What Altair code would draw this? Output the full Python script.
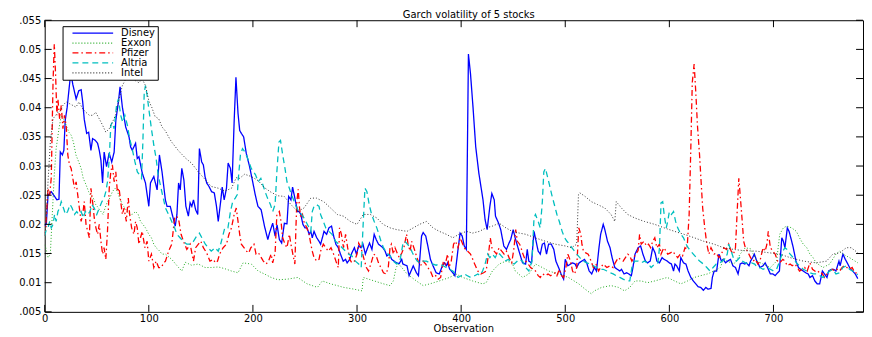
import altair as alt
import pandas as pd

# ---------------- data (observation, volatility) ----------------
disney = [(0,.0197),(1.6,.0202),(3.2,.025),(6.3,.0256),(9.5,.0248),(11.7,.0242),(13.7,.0243),(15,.0324),(17,.0319),(18.4,.0327),(19.7,.0378),(21.6,.0401),(25,.046),(27,.044),(30.2,.0415),(32.7,.0429),(35,.0431),(36.5,.041),(38,.038),(40.3,.0356),(42.2,.0358),(44.4,.0327),(46,.0347),(48.6,.0344),(50.8,.0339),(52.4,.0327),(54,.031),(55.6,.0271),(57.1,.0324),(59.4,.0299),(61.9,.0322),(64.4,.0307),(66.7,.0324),(68.3,.0378),(70.8,.041),(72.4,.0436),(74.6,.0401),(77.8,.0367),(81,.035),(82.5,.0333),(84.1,.0327),(87.3,.0339),(88.9,.0313),(90.5,.0316),(93.7,.0288),(96.8,.0271),(100,.0231),(101.6,.0271),(104.8,.0282),(108,.0259),(110.2,.0319),(112.7,.029),(115.9,.0242),(117.5,.0231),(120.6,.0231),(122.2,.0219),(123.8,.0208),(125.4,.0197),(127,.0217),(128.6,.0271),(130.2,.0259),(131.7,.0296),(133.7,.0276),(135.6,.0231),(138,.0214),(139.7,.0237),(141.3,.0231),(142.9,.0242),(145,.0225),(147,.0217),(148.6,.033),(150.8,.0307),(152.4,.0302),(154,.0282),(155.6,.0271),(157.8,.0265),(160.3,.0256),(162.9,.0254),(165,.0231),(166.7,.0205),(169.2,.0242),(170.5,.0264),(172.4,.0242),(174.6,.0262),(176.2,.0305),(178.4,.0296),(180,.0271),(182,.0378),(183.7,.0452),(185.7,.039),(187.3,.0361),(188.9,.0356),(191.1,.035),(193.6,.0322),(196.8,.0299),(200,.0271),(202.2,.0251),(204.8,.0231),(207.9,.0225),(211.1,.0197),(214.3,.0174),(215.9,.0185),(219,.0202),(221.3,.018),(223.2,.0199),(225.4,.0174),(227.6,.0168),(230.2,.0202),(232.7,.0201),(234.3,.0248),(236.5,.0242),(238.1,.0264),(240.6,.0242),(242.9,.0222),(244.4,.0222),(246,.0217),(248,.02),(250,.0194),(252,.0194),(254,.0183),(255.6,.0188),(257,.0177),(258.7,.0188),(261.3,.0177),(263.5,.0171),(265,.0166),(266.7,.0177),(268.3,.0188),(270.8,.0183),(273,.0194),(275.5,.0197),(277.5,.018),(279.7,.0166),(282,.016),(284.1,.0149),(286.7,.0137),(289,.014),(290.5,.0134),(293,.014),(295,.0151),(297.5,.016),(299.4,.0149),(301.6,.0163),(303.8,.016),(305.7,.0166),(308,.0149),(310.2,.016),(312,.0168),(314.3,.0157),(316.5,.0183),(318.4,.0174),(320.6,.0166),(322.9,.0163),(324.8,.016),(327,.0154),(328.6,.0146),(331,.0149),(333.3,.014),(335.6,.0137),(338,.0134),(340.6,.0133),(342.9,.014),(344,.0132),(348,.0129),(350,.0112),(354,.0129),(357,.0117),(359,.0112),(362,.018),(363.5,.0186),(366,.018),(368,.0163),(370.5,.014),(373,.0129),(376,.0117),(379,.0115),(382,.0129),(384,.0134),(385.7,.0129),(387,.0134),(389,.0123),(392,.0117),(394,.0112),(397,.0157),(399,.0185),(401,.018),(403,.0163),(405,.0157),(407,.0492),(409,.0458),(411.4,.0401),(414,.0333),(417,.0288),(421,.0242),(423,.0208),(425,.0191),(427.6,.0231),(429.5,.0253),(431.8,.0242),(433,.0214),(436,.0202),(438,.0191),(441,.0163),(443.5,.0157),(446,.0168),(447.6,.0174),(450,.0191),(452,.0176),(455.6,.0154),(459,.0134),(461.9,.0132),(463.5,.0157),(465,.0137),(467.6,.0134),(470,.0188),(472,.0171),(474,.0154),(476,.0149),(478,.0166),(480,.0168),(482,.0149),(484,.0166),(486.6,.0166),(489,.0157),(491,.0137),(493.6,.0126),(496,.0115),(498.4,.0106),(500,.014),(502.5,.0129),(505,.0132),(507,.0134),(509.5,.0132),(511,.0126),(513.3,.0134),(515.9,.0137),(518.4,.014),(520.6,.0134),(523,.012),(525.4,.0115),(528,.0126),(530,.012),(532.4,.016),(534,.0183),(536.5,.02),(538,.0191),(540.6,.0171),(543,.016),(545,.0143),(547.6,.0126),(550,.0123),(552.4,.012),(554,.0123),(556.5,.0115),(559,.0117),(561,.0115),(563.5,.0112),(565,.0126),(567,.0149),(570,.016),(572.4,.0163),(574.6,.0149),(577,.0137),(579,.0134),(581.6,.0137),(584,.016),(586.3,.0151),(588,.0137),(590.5,.0134),(593,.0143),(595,.014),(598,.0137),(600,.0134),(602,.0132),(604,.012),(605.4,.0132),(607,.0129),(609.5,.012),(611,.0143),(613.6,.0134),(615.9,.0132),(618,.012),(620.6,.0109),(623,.0103),(625.4,.0098),(627.6,.0093),(630,.0092),(632.7,.0087),(635,.0092),(637,.0089),(640,.009),(641.3,.0109),(643,.012),(645.4,.012),(647.6,.0149),(650,.0137),(651.7,.014),(654,.0134),(656,.0137),(658.7,.014),(661,.0129),(663.5,.0126),(666,.0115),(668,.0132),(670,.0134),(672.4,.0132),(674,.0134),(676.5,.0129),(678,.0137),(680,.0143),(681.6,.0149),(684,.0137),(685.5,.0132),(687,.0126),(690,.0129),(692,.0134),(694.3,.0126),(697,.0115),(699.4,.0115),(701.6,.0112),(704,.0117),(705.7,.012),(708,.0177),(709.5,.0171),(711,.016),(713.3,.0194),(715,.0188),(717.5,.0171),(719,.016),(721.6,.0137),(724,.0126),(726,.0123),(728.6,.012),(731,.0117),(733.3,.0115),(735,.0109),(737.5,.0112),(739.7,.0103),(742,.0098),(744.4,.0098),(747,.012),(749,.0115),(751.4,.0109),(753,.012),(755.6,.0123),(757.8,.0123),(760,.012),(762.9,.0137),(764,.0129),(766.7,.0149),(769,.014),(771.4,.0132),(774,.0123),(776,.012),(778.6,.0115),(781,.0107)]

exxon = [(0,.0165),(1,.016),(3.2,.0143),(5.4,.0149),(7.3,.0217),(9.2,.0285),(11,.033),(13.7,.0364),(15.9,.0387),(18,.0381),(20.6,.037),(23.2,.0358),(25.4,.0353),(27.6,.0341),(30,.0319),(32.7,.0307),(35,.0296),(37,.0279),(39.7,.0268),(42.2,.0256),(44.4,.0248),(46.7,.0245),(49,.0234),(51.7,.0228),(54,.0222),(56,.0217),(58,.0228),(60.3,.0239),(62.5,.0245),(65,.0256),(67.6,.0262),(70,.0256),(72,.0245),(74.6,.0234),(77,.0228),(79.4,.0222),(81.6,.0217),(84,.0217),(87.3,.0222),(89.8,.0217),(92,.0205),(94.3,.02),(96.8,.0194),(100,.0183),(102.5,.0177),(104.8,.0166),(107,.016),(109.5,.0156),(112.7,.0149),(116,.0149),(122,.014),(128.6,.0126),(131.7,.012),(135,.0135),(141,.013),(147.6,.0132),(154,.0126),(160,.0126),(166.7,.0127),(173,.0124),(179.4,.012),(185.7,.0117),(190.5,.0134),(198.4,.0132),(205,.012),(211,.0115),(217.5,.0109),(224,.0105),(233,.0106),(243,.0109),(252,.0098),(262,.0092),(266.7,.0103),(274.6,.0098),(281,.0095),(287,.0092),(296.8,.0089),(304.8,.0086),(306,.0109),(316.5,.0103),(325.4,.0098),(331.7,.0095),(334.9,.0103),(337.5,.0126),(340,.0132),(343,.0126),(348,.0115),(357,.0103),(363.5,.0095),(370,.0098),(379,.0103),(389,.0109),(395,.0115),(401.6,.0109),(411,.0103),(420.6,.0098),(424,.01),(430,.012),(436.5,.0132),(443,.0137),(449,.0134),(452,.012),(459,.0109),(465,.0115),(471.4,.0132),(478,.0126),(484,.012),(493.6,.0115),(503,.0109),(513,.0098),(519,.0089),(525,.0081),(528,.0086),(535,.0092),(544,.0095),(551,.0092),(557,.0086),(562,.0092),(567,.0103),(573,.0103),(579,.01),(586,.0103),(592,.0106),(598,.0109),(605,.0103),(611,.0098),(617.5,.0103),(624,.0109),(630,.0112),(636.5,.0115),(643,.012),(649,.0126),(652.4,.0143),(655.6,.0137),(662,.0132),(668,.0149),(673,.016),(678,.0158),(684,.0137),(690,.0132),(697,.0126),(703,.0137),(706,.0183),(709.5,.0194),(712.7,.0197),(717.5,.0194),(722,.0188),(725,.0177),(728.6,.0166),(732,.016),(735,.0149),(738,.0143),(741,.0134),(747.6,.0126),(754,.0132),(760,.0149),(763.5,.0154),(766.7,.0149),(773,.0143),(781,.0134)]

pfizer = [(0,.018),(1,.0194),(3.2,.0262),(4.8,.025),(6.3,.028),(8,.0443),(9.2,.0509),(10.5,.0455),(11.7,.0387),(12.7,.0415),(14.3,.0381),(15.9,.0404),(17.5,.0364),(19,.0387),(20.6,.037),(22.2,.0319),(23.8,.0302),(25.4,.0296),(27,.0279),(28.6,.0262),(30.2,.0273),(31.7,.0251),(33.3,.0228),(35,.0205),(36.5,.0217),(38,.0239),(39.7,.02),(41.3,.0188),(42.9,.0177),(44.4,.0262),(46,.0239),(47.6,.0211),(49.2,.0194),(50.8,.0183),(52.4,.02),(54,.0171),(55.6,.0149),(57,.016),(58.7,.014),(60.3,.0188),(62,.0262),(63.5,.029),(65,.0302),(66.7,.0273),(68.3,.029),(69.8,.0256),(71.4,.0262),(73,.0239),(74.6,.0217),(76.2,.0228),(78.4,.0205),(80.3,.0245),(81.6,.0217),(83.5,.0194),(85.7,.0183),(87.3,.0205),(88.9,.0194),(90.5,.0166),(92,.0177),(93.7,.0188),(96.2,.016),(98.4,.0171),(100,.0137),(102.5,.0149),(104.8,.0126),(107,.0137),(109.5,.0126),(112,.0126),(114.3,.0134),(116,.0137),(119,.0154),(122,.0166),(124.8,.0211),(127,.0214),(129,.0205),(131,.0183),(133.3,.0171),(136.5,.0157),(139.7,.0166),(142.9,.0137),(145,.016),(147.6,.0166),(150,.0171),(152.4,.016),(155.6,.0151),(158.7,.0137),(162,.014),(164,.0134),(166,.0137),(168,.0149),(171.4,.016),(174.6,.0166),(177,.0183),(179.4,.0194),(182,.0217),(184,.0228),(185.7,.0205),(187.3,.0183),(188.9,.0166),(191.4,.016),(194,.0154),(196,.0151),(198,.016),(201,.0166),(203,.0149),(205.4,.0151),(208,.0143),(210,.0137),(212.7,.0132),(215,.0137),(217.5,.0149),(219,.0134),(221.3,.0151),(223,.0217),(225.4,.0222),(227,.0205),(228.6,.0177),(230.8,.0166),(232.7,.016),(235,.0183),(236.5,.0166),(239,.0143),(240.3,.0132),(241.3,.0194),(242.2,.0239),(243.5,.026),(244.8,.0228),(246,.0211),(247.6,.0217),(249,.0205),(251.7,.0194),(254,.0183),(255.6,.0166),(257,.0154),(258.7,.0143),(261.3,.0137),(263.5,.014),(265,.0154),(267.6,.0166),(270,.016),(272.4,.0154),(275,.016),(277.5,.0149),(279.7,.0137),(282,.0126),(283.2,.0194),(285,.0183),(287,.016),(289,.0183),(291,.016),(293,.014),(295,.0134),(297.5,.0137),(300,.0149),(301.6,.0168),(303.8,.016),(306.3,.0143),(309,.0126),(311,.012),(313.3,.0132),(316,.0149),(318.4,.0146),(320.6,.0134),(322.9,.0126),(325.4,.0117),(327.9,.0115),(330,.0126),(331.7,.016),(333,.0166),(334.9,.0149),(336.5,.016),(339,.0149),(340.6,.0143),(343,.0151),(345,.016),(347.6,.0183),(349,.0166),(351,.0154),(352.4,.0171),(354.6,.016),(356.5,.0149),(358.7,.0137),(361,.0129),(363.5,.0137),(366,.0132),(368,.0126),(370.5,.012),(373,.0109),(375.6,.0112),(378,.0106),(380.3,.0109),(383,.0137),(384.8,.0132),(387,.0149),(388.3,.0126),(390.5,.0137),(392.7,.0166),(394.6,.0171),(397,.016),(399,.0177),(401.6,.0166),(404,.0157),(406.3,.0154),(409,.0149),(410.5,.0143),(413,.0132),(416,.012),(419,.0115),(421.6,.0117),(424,.012),(426.3,.0149),(428,.0177),(429.5,.016),(431.7,.0154),(434,.0149),(436.5,.016),(439,.0154),(441.3,.0149),(443.5,.0154),(446,.0143),(448.6,.0134),(450.8,.016),(452.4,.0191),(454,.0171),(456.2,.0166),(457.5,.016),(459.4,.0149),(462,.0137),(464.4,.0132),(466.7,.0126),(469,.0123),(471.4,.012),(474,.0112),(476,.0109),(478.4,.0115),(481,.0112),(483.5,.0115),(486,.0112),(488,.0115),(490.5,.0117),(492,.0112),(494.3,.0123),(496.5,.0112),(498.4,.0109),(500.6,.0126),(502.5,.0149),(505,.0137),(507,.012),(509,.0115),(511,.0126),(513,.0194),(515,.0183),(516,.0166),(517.5,.0154),(519.7,.0151),(522,.0149),(524.8,.0137),(527,.0126),(529.5,.0132),(532,.012),(534,.0126),(536.5,.0132),(540,.0126),(543,.0129),(546,.0126),(548,.0134),(551,.0143),(553,.014),(555.6,.0137),(557.8,.0143),(560,.0149),(562,.0146),(564,.0137),(566.7,.0146),(570,.0155),(571.4,.0183),(573,.0166),(575.6,.0171),(578,.0163),(580,.0166),(582,.016),(584,.0171),(586,.0177),(588,.016),(590.5,.0166),(592,.0149),(594.6,.016),(597,.0154),(598.4,.0149),(601,.0151),(603,.0154),(605.4,.0149),(608,.0143),(610.5,.0149),(612.7,.0146),(615,.016),(617,.0157),(619,.0217),(620.6,.033),(622,.0443),(623.8,.0475),(625.4,.0426),(627,.0369),(629,.0319),(630.5,.0273),(632,.0228),(634,.0194),(636,.0166),(638,.0149),(640,.016),(643,.0149),(645,.0151),(647.6,.0143),(650,.0149),(652.4,.016),(655,.0157),(657,.0166),(659.4,.0154),(661.6,.0149),(663.5,.016),(665,.0217),(666.7,.0279),(668,.0251),(670,.0205),(671.4,.0171),(673,.016),(675,.0154),(678,.0143),(680.3,.0137),(682.5,.014),(685,.0132),(687,.0137),(690,.016),(692,.0154),(693.7,.0166),(695,.0188),(697,.016),(699.4,.0154),(701.6,.0149),(704,.0137),(706,.0134),(709,.014),(711,.0137),(713.3,.0129),(716,.0132),(718,.0129),(720.6,.0132),(723,.0126),(725,.012),(728,.0123),(730,.0126),(732.4,.012),(735,.0134),(737.5,.0123),(739.7,.012),(742,.0117),(744.4,.012),(747,.0115),(749,.0109),(751.4,.0115),(754,.012),(756.5,.0123),(758.7,.012),(761,.0123),(763.5,.012),(766,.0126),(768,.0129),(770.5,.0126),(773,.0123),(775.6,.0126),(778,.0117),(781,.0117)]

altria = [(0,.018),(1,.0188),(3.2,.0194),(4.8,.0205),(6.3,.0194),(8,.02),(9.5,.0217),(11,.0205),(12.7,.0222),(14.3,.0228),(15.9,.0239),(18,.0228),(20,.0217),(22,.0222),(24.4,.0234),(26.3,.0228),(28.6,.0217),(30.8,.0222),(32.7,.0217),(35,.0222),(37,.0211),(39,.0222),(41.3,.0217),(43.5,.0222),(45.4,.0234),(47.6,.0228),(50,.0217),(52.4,.0228),(55,.0239),(57,.0245),(58.7,.0256),(60.3,.0273),(62,.0313),(63.5,.037),(65,.0375),(66.7,.0364),(69,.0404),(70.8,.0415),(73,.0387),(75,.0375),(77,.0387),(79.4,.037),(81.6,.0347),(84,.033),(86.7,.0307),(89,.029),(91,.0285),(93,.0279),(94.3,.0341),(95.6,.0426),(96.8,.0438),(98.4,.0421),(100,.0398),(102.5,.0364),(104.8,.0336),(107,.0313),(109,.0285),(111,.0268),(113,.0252),(116,.0228),(119,.0217),(122,.0205),(124.8,.0194),(127,.0183),(130,.0177),(133,.0171),(136.5,.0166),(139.7,.0166),(142.9,.0171),(146,.018),(148.6,.0185),(151,.0177),(154.3,.0166),(157,.016),(160,.0154),(163.5,.016),(166.7,.0154),(169,.0166),(171.4,.0183),(173,.0194),(176,.0194),(178.4,.0222),(180.6,.0239),(183,.0245),(185,.0251),(186,.0279),(188,.0319),(190,.033),(192.4,.0324),(195,.0313),(198.4,.0296),(200.6,.029),(202.5,.0285),(205,.0273),(207.6,.0279),(209.5,.0268),(211.7,.0256),(214,.0245),(216.8,.0234),(219,.0222),(221.3,.0234),(223,.029),(225,.0341),(226.5,.0344),(228.6,.0319),(230.8,.0296),(232.7,.0273),(235,.0262),(237,.0251),(239.7,.0239),(242,.0228),(244.4,.0222),(246.7,.0217),(249,.0211),(251.7,.0202),(254,.0194),(255.6,.0188),(257,.0222),(258.7,.0231),(261,.0234),(263.5,.0231),(265,.0217),(267.6,.0205),(270,.0194),(273,.0188),(276,.0183),(279.4,.0171),(282.5,.0166),(285.7,.016),(289,.0154),(292,.0149),(295,.0146),(298.4,.0137),(301.6,.0132),(304,.0126),(306,.0205),(307.6,.0262),(309.5,.0256),(311.7,.0234),(314,.0217),(316.5,.0205),(319,.0194),(321,.0183),(323,.0171),(325.4,.016),(328.6,.0151),(331.7,.0146),(334.9,.0137),(338,.0132),(341,.0135),(344,.0166),(346,.0171),(348.3,.0166),(351,.016),(353.3,.0151),(355.6,.0143),(357.8,.0137),(360,.0134),(363.5,.0137),(366.7,.0137),(370,.0134),(373,.0132),(376,.013),(379,.0132),(382.5,.0129),(385.7,.0126),(389,.0123),(392,.012),(394.6,.0115),(397,.0109),(400,.0112),(403,.0115),(406,.0112),(409,.0109),(413,.0112),(416,.0115),(418,.0112),(420.6,.012),(423,.0132),(425.4,.0149),(427.6,.0143),(430,.0149),(432.7,.0143),(435,.0151),(437,.0149),(440,.0143),(442,.0137),(445.4,.014),(448,.0134),(451,.0132),(455.6,.014),(459,.0137),(462,.0126),(465,.012),(468,.0137),(470,.0211),(471.4,.0217),(474,.0205),(476,.0194),(478,.0239),(479.4,.029),(481,.0296),(482.5,.0285),(484.8,.0268),(487,.0251),(489.5,.0234),(492,.0217),(494.3,.0205),(497,.0188),(499.4,.0177),(501.6,.0171),(504,.0166),(506.3,.016),(509,.0154),(511,.0149),(514,.0143),(517.5,.0137),(520.6,.0134),(523.8,.0132),(527,.0129),(530,.0126),(533,.0123),(536.5,.0123),(540,.012),(543,.0117),(546,.0115),(549,.0112),(552.4,.0109),(555.6,.0106),(559,.0103),(562,.0103),(564,.0126),(566.7,.0137),(570,.0137),(573,.0134),(576,.0137),(579,.0134),(582.5,.0126),(586,.0132),(589,.0134),(590.5,.016),(592,.0237),(593.6,.0239),(595,.0217),(597,.0194),(598.4,.0205),(600,.0222),(602,.0217),(604,.0222),(606,.0205),(608,.0194),(611,.0183),(613.6,.0177),(616,.0166),(618,.016),(620.6,.0154),(623,.0149),(626,.0143),(629,.0137),(632.7,.0132),(636,.0126),(639,.012),(642,.0126),(645,.0132),(648.6,.0134),(650.8,.0137),(653,.014),(655.6,.0149),(657,.0166),(659.4,.0154),(662,.014),(664.4,.0137),(667.6,.0143),(670,.0137),(673,.0134),(676,.0132),(679,.0134),(682,.0132),(684.4,.0126),(687,.0126),(690,.0123),(693.7,.0126),(697,.0123),(700,.012),(703,.0123),(706,.0137),(709,.0154),(711,.016),(713,.0157),(716,.0149),(719,.0143),(722,.0134),(725,.0129),(728.6,.0123),(732,.012),(735,.0117),(738,.0115),(741,.0115),(744.4,.0112),(747.6,.0109),(751,.0115),(754,.012),(757,.0123),(760,.0115),(763.5,.0117),(766.7,.0126),(770,.0129),(773,.0123),(776,.012),(779.4,.0115),(781,.0114)]

intel = [(0,.0185),(1,.0194),(3.2,.0273),(5.4,.0341),(8,.0381),(10.5,.0387),(12.7,.0392),(15,.0395),(17.5,.0404),(20.6,.041),(23.8,.0407),(27,.0404),(30,.0401),(33,.041),(36.5,.0398),(39.7,.0392),(42.9,.0387),(46,.0387),(49,.0392),(52.4,.0381),(55.6,.037),(58.7,.0358),(62,.0364),(65,.0375),(68,.0387),(71.4,.0415),(74.6,.0438),(77.8,.0449),(81,.0455),(84,.0452),(87.3,.0446),(90.5,.0443),(93.7,.0449),(96.8,.0438),(100,.0412),(103,.04),(106,.0385),(109.5,.0381),(112.7,.0367),(116,.036),(119,.035),(122,.0341),(128.6,.0326),(135,.0314),(141,.0305),(147.6,.029),(154,.0277),(160,.0265),(166.7,.0262),(173,.0257),(179.4,.0262),(184,.028),(187.3,.0279),(192,.0286),(198.4,.0282),(205,.0275),(211,.0263),(217.5,.0255),(224,.0249),(230,.0248),(236.5,.0234),(243,.0222),(249,.0228),(255.6,.0245),(261,.0245),(268,.0239),(274.6,.0228),(281,.0217),(287,.0214),(293.6,.0205),(300,.02),(306,.0217),(312.7,.0217),(319,.0211),(325,.02),(331.7,.0194),(338,.0191),(348,.0188),(354,.0194),(360,.02),(366.7,.0205),(373,.0194),(379,.0188),(385.7,.0183),(392,.0177),(398,.0183),(405,.0188),(411,.0185),(417.5,.0188),(424,.0194),(430,.0197),(436.5,.0202),(443,.0194),(449,.0188),(456,.0185),(462,.0183),(471,.0177),(481,.0171),(490.5,.0166),(500,.0163),(506,.016),(511,.0166),(512.7,.0251),(514,.0254),(519,.0248),(525,.0239),(531,.0234),(538,.0228),(544,.0217),(547.6,.0205),(549,.0239),(554,.0228),(560,.0217),(566.7,.0211),(576,.0205),(586,.02),(595,.0194),(605,.0188),(614,.0183),(624,.0177),(633,.0171),(643,.0166),(652,.016),(662,.0157),(671,.0155),(684,.0154),(697,.0151),(706,.0149),(716,.0143),(728.6,.0137),(741,.0134),(751,.0137),(757,.0149),(763.5,.0151),(770,.016),(774.6,.016),(779,.0154),(781,.0151)]

stocks = ["Disney", "Exxon", "Pfizer", "Altria", "Intel"]
x_ticks = [0, 100, 200, 300, 400, 500, 600, 700]
y_ticks = [0.005, 0.01, 0.015, 0.02, 0.025, 0.03, 0.035, 0.04, 0.045, 0.05, 0.055]
y_tick_labels = [".005", "0.01", ".015", "0.02", ".025", "0.03", ".035", "0.04", ".045", "0.05", ".055"]
chart_title = "Garch volatility of 5 stocks"
x_title = "Observation"

# ---------------- styles ----------------
colors = ["#0000ff", "#22aa22", "#ff0000", "#00bfbf", "#333333"]
dashes = [[1, 0], [1, 2], [6, 3, 1.5, 3], [6, 4], [1, 2]]
widths = [1.3, 1.0, 1.3, 1.3, 1.0]
FONT = "DejaVu Sans"
W, H = 825, 294
TICK = 7

rows = []
for name, pts in zip(stocks, [disney, exxon, pfizer, altria, intel]):
    for o, v in pts:
        rows.append({"obs": o, "vol": v, "stock": name})
df = pd.DataFrame(rows)

label_expr = "[" + ",".join("'%s'" % s for s in y_tick_labels) + "][round((datum.value - 0.005) / 0.005)]"

x_enc = alt.X("obs:Q", title=x_title,
              scale=alt.Scale(domain=[0, 786], nice=False, zero=False),
              axis=alt.Axis(values=x_ticks, ticks=False, domain=False, grid=False,
                            labelPadding=10, labelBaseline="alphabetic", labelFlush=False,
                            labelOverlap=False, titleX=422, titleY=20, titleBaseline="alphabetic",
                            titleAlign="center"))
y_enc = alt.Y("vol:Q", title=None,
              scale=alt.Scale(domain=[0.005, 0.055], nice=False, zero=False),
              axis=alt.Axis(values=y_ticks, ticks=False, domain=False, grid=False,
                            labelPadding=4, labelBaseline="middle", labelAlign="right",
                            labelFlush=False, labelOverlap=False, labelExpr=label_expr))

legend = alt.Legend(title=None, orient="none", legendX=18, legendY=6, padding=2,
                    rowPadding=0, clipHeight=10, symbolType="stroke", symbolSize=1681,
                    symbolStrokeWidth=1.3, symbolOffset=7, labelOffset=7, labelAlign="left",
                    fillColor="white", strokeColor="black")
color_enc = alt.Color("stock:N", scale=alt.Scale(domain=stocks, range=colors), legend=legend)
dash_enc = alt.StrokeDash("stock:N", scale=alt.Scale(domain=stocks, range=dashes), legend=legend)

layers = []
for name, w in zip(stocks, widths):
    layers.append(
        alt.Chart(df).transform_filter(alt.datum.stock == name)
        .mark_line(strokeWidth=w, clip=True)
        .encode(x=x_enc, y=y_enc, color=color_enc, strokeDash=dash_enc)
    )

ydf = pd.DataFrame({"vol": y_ticks})
xdf = pd.DataFrame({"obs": x_ticks})
rule = dict(color="black", strokeWidth=1)
left_ticks = alt.Chart(ydf).mark_rule(**rule).encode(y=y_enc, x=alt.value(0), x2=alt.value(TICK))
right_ticks = alt.Chart(ydf).mark_rule(**rule).encode(y=y_enc, x=alt.value(W), x2=alt.value(W - TICK))
bottom_ticks = alt.Chart(xdf).mark_rule(**rule).encode(x=x_enc, y=alt.value(H), y2=alt.value(H - TICK))
top_ticks = alt.Chart(xdf).mark_rule(**rule).encode(x=x_enc, y=alt.value(0), y2=alt.value(TICK))

chart = alt.layer(*layers, left_ticks, right_ticks, bottom_ticks, top_ticks).properties(
    width=W, height=H,
    title=alt.TitleParams(chart_title, font=FONT, fontSize=10, fontWeight="normal",
                          color="black", anchor="middle", frame="group", dx=15, dy=13,
                          offset=0, baseline="alphabetic"),
    autosize=alt.AutoSizeParams(type="none"),
    padding={"left": 37, "top": 11, "right": 1, "bottom": 22},
).configure_view(stroke="black", strokeWidth=1).configure_axis(
    labelFont=FONT, labelFontSize=10, labelColor="black",
    titleFont=FONT, titleFontSize=10, titleFontWeight="normal", titleColor="black"
).configure_legend(labelFont=FONT, labelFontSize=10, labelColor="black", labelLimit=300)

chart.save("out.html", embed_options={"renderer": "svg", "actions": False})
